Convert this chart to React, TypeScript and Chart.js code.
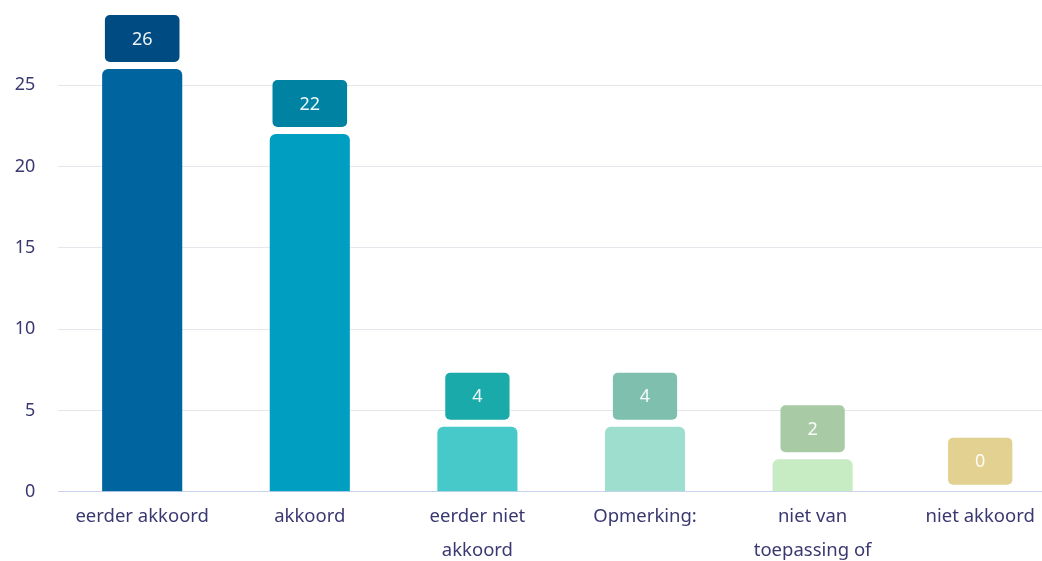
import React, { useEffect, useRef } from "react";
import { Chart, registerables } from "chart.js";

Chart.register(...registerables);

const categories: (string | string[])[] = [
  "eerder akkoord",
  "akkoord",
  ["eerder niet", "akkoord"],
  "Opmerking:",
  ["niet van", "toepassing of", "geen mening"],
  "niet akkoord",
];
const values = [26, 22, 4, 4, 2, 0];
const barColors = ["#00649f", "#009fc1", "#48c9c9", "#9edece", "#c7ecc4", "#fff0af"];
const boxColors = ["#004c82", "#0082a2", "#1aaaa9", "#7fbfae", "#a8cba5", "#e2d190"];
const yTicks = [0, 5, 10, 15, 20, 25];

const FONT = "'Noto Sans', sans-serif";
const TEXT = "#3a3870";

const valueBoxes = {
  id: "valueBoxes",
  afterDatasetsDraw(chart: any) {
    const ctx = chart.ctx;
    const meta = chart.getDatasetMeta(0);
    ctx.save();
    ctx.font = `18px ${FONT}`;
    meta.data.forEach((bar: any, i: number) => {
      const txt = String(values[i]);
      const tw = ctx.measureText(txt).width;
      const w = tw + 54;
      const h = 47;
      const x = bar.x - w / 2;
      const y = bar.y - 7 - h;
      ctx.fillStyle = boxColors[i];
      ctx.beginPath();
      (ctx as any).roundRect(x, y, w, h, 5);
      ctx.fill();
      ctx.fillStyle = "rgba(255,255,255,0.93)";
      ctx.textAlign = "center";
      ctx.textBaseline = "middle";
      ctx.fillText(txt, bar.x, y + h / 2 + 1);
    });
    ctx.restore();
  },
};

export default function App() {
  const ref = useRef<HTMLCanvasElement>(null);
  useEffect(() => {
    document.body.style.margin = "0";
    document.body.style.overflow = "hidden";
    const chart = new Chart(ref.current!, {
      type: "bar",
      data: {
        labels: categories,
        datasets: [
          {
            data: values,
            backgroundColor: barColors,
            borderRadius: 6,
            borderSkipped: "start",
            barPercentage: 0.478,
            categoryPercentage: 1,
          },
        ],
      },
      options: {
        animation: false,
        responsive: false,
        devicePixelRatio: 1,
        layout: { padding: { top: 69, right: 6, left: 0, bottom: 0 } },
        plugins: { legend: { display: false }, tooltip: { enabled: false } },
        scales: {
          x: {
            grid: { display: false, drawTicks: false },
            border: { display: true, color: "#c9d3ef", width: 1 },
            ticks: {
              color: TEXT,
              font: { family: FONT, size: 18.5, lineHeight: 1.83 },
              padding: 8,
              maxRotation: 0,
              autoSkip: false,
            },
            afterFit: (s: any) => {
              s.height = 108.3;
            },
          },
          y: {
            min: 0,
            max: 26,
            afterBuildTicks: (s: any) => {
              s.ticks = yTicks.map((v) => ({ value: v }));
            },
            ticks: {
              stepSize: 5,
              includeBounds: false,
              color: TEXT,
              font: { family: FONT, size: 18 },
              padding: 23,
            },
            grid: {
              drawTicks: false,
              color: (c: any) => (c.tick && c.tick.value === 0 ? "#c9d3ef" : "#e6e6ec"),
              lineWidth: 1,
            },
            border: { display: false },
            afterFit: (s: any) => {
              s.width = 58.4;
            },
          },
        },
      },
      plugins: [valueBoxes],
    });
    return () => chart.destroy();
  }, []);
  return (
    <div style={{ position: "fixed", left: 0, top: 0, width: 1042, height: 561, overflow: "hidden", background: "#fff" }}>
      <canvas ref={ref} width={1070} height={600} style={{ display: "block" }} />
    </div>
  );
}
